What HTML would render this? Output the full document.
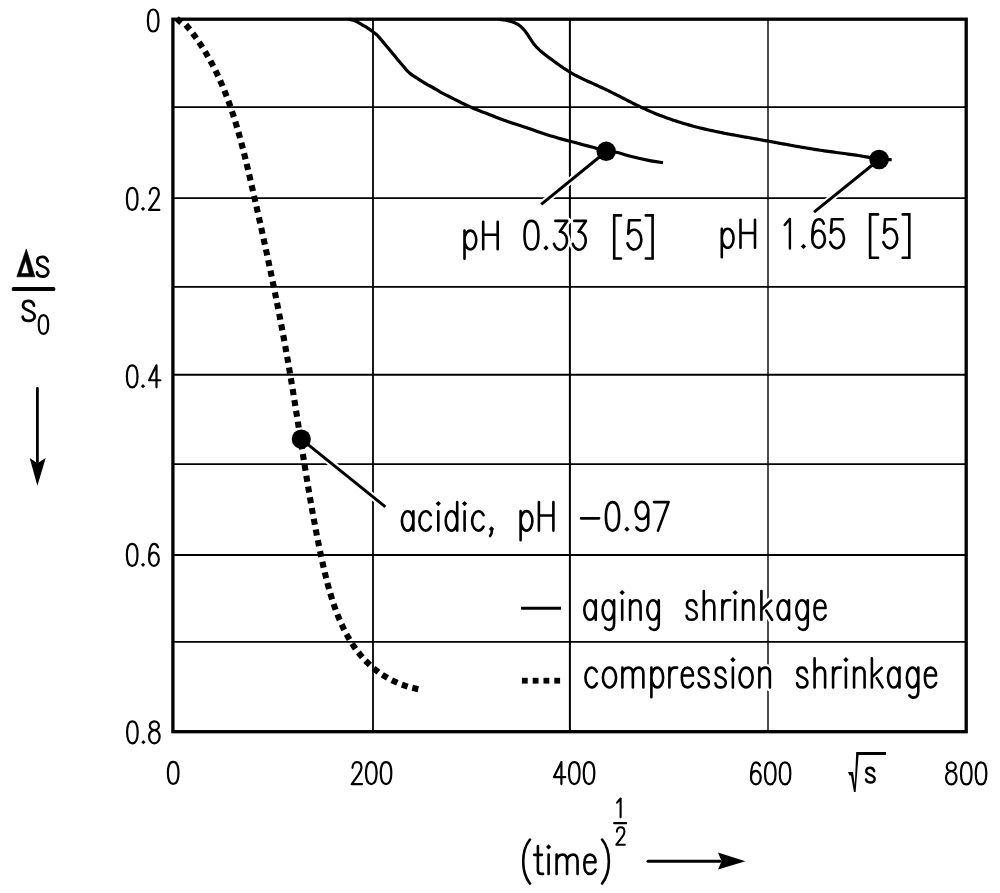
<!DOCTYPE html>
<html><head><meta charset="utf-8"><style>
html,body{margin:0;padding:0;background:#fff;width:1000px;height:893px;overflow:hidden}
svg{display:block}
text{font-family:"Liberation Sans",sans-serif}
</style></head><body>
<svg width="1000" height="893" viewBox="0 0 1000 893">
<rect width="1000" height="893" fill="#fff"/>
<line x1="373.0" y1="19.2" x2="373.0" y2="731.7" stroke="#000" stroke-width="1.8"/>
<line x1="569.9" y1="19.2" x2="569.9" y2="731.7" stroke="#000" stroke-width="2.0"/>
<line x1="768.0" y1="19.2" x2="768.0" y2="731.7" stroke="#000" stroke-width="1.4"/>
<line x1="172.9" y1="107.1" x2="966.2" y2="107.1" stroke="#000" stroke-width="1.9"/>
<line x1="172.9" y1="198.1" x2="966.2" y2="198.1" stroke="#000" stroke-width="1.9"/>
<line x1="172.9" y1="286.9" x2="966.2" y2="286.9" stroke="#000" stroke-width="1.9"/>
<line x1="172.9" y1="374.7" x2="966.2" y2="374.7" stroke="#000" stroke-width="1.9"/>
<line x1="172.9" y1="464.1" x2="966.2" y2="464.1" stroke="#000" stroke-width="1.9"/>
<line x1="172.9" y1="555.0" x2="966.2" y2="555.0" stroke="#000" stroke-width="1.9"/>
<line x1="172.9" y1="641.9" x2="966.2" y2="641.9" stroke="#000" stroke-width="1.9"/>
<line x1="606.2" y1="151.5" x2="541.2" y2="204.4" stroke="#fff" stroke-width="7"/>
<line x1="879.2" y1="159.5" x2="814" y2="212.1" stroke="#fff" stroke-width="7"/>
<line x1="301.3" y1="439.1" x2="385.4" y2="506.8" stroke="#fff" stroke-width="7"/>
<rect x="172.9" y="19.2" width="793.3" height="712.5" fill="none" stroke="#000" stroke-width="3.3"/>
<line x1="606.2" y1="151.5" x2="541.2" y2="204.4" stroke="#000" stroke-width="3"/>
<line x1="879.2" y1="159.5" x2="814" y2="212.1" stroke="#000" stroke-width="3"/>
<line x1="301.3" y1="439.1" x2="385.4" y2="506.8" stroke="#000" stroke-width="3"/>
<path d="M349.00,19.20 C349.75,19.38 352.07,19.82 353.50,20.30 C354.93,20.78 356.08,21.30 357.60,22.10 C359.12,22.90 360.92,24.10 362.60,25.10 C364.28,26.10 366.10,27.08 367.70,28.10 C369.30,29.12 370.95,30.32 372.20,31.20 C373.45,32.08 374.32,32.68 375.20,33.40 C376.08,34.12 376.70,34.67 377.50,35.50 C378.30,36.33 379.08,37.33 380.00,38.40 C380.92,39.47 382.00,40.72 383.00,41.90 C384.00,43.08 385.00,44.30 386.00,45.50 C387.00,46.70 388.00,47.90 389.00,49.10 C390.00,50.30 391.00,51.50 392.00,52.70 C393.00,53.90 394.00,55.10 395.00,56.30 C396.00,57.50 397.00,58.70 398.00,59.90 C399.00,61.10 400.00,62.30 401.00,63.50 C402.00,64.70 403.00,65.90 404.00,67.10 C405.00,68.30 406.08,69.72 407.00,70.70 C407.92,71.68 408.67,72.30 409.50,73.00 C410.33,73.70 411.08,74.25 412.00,74.90 C412.92,75.55 414.00,76.25 415.00,76.90 C416.00,77.55 416.70,77.98 418.00,78.80 C419.30,79.62 421.17,80.80 422.80,81.80 C424.43,82.80 426.13,83.85 427.80,84.80 C429.47,85.75 430.77,86.33 432.80,87.50 C434.83,88.67 437.47,90.38 440.00,91.80 C442.53,93.22 445.33,94.63 448.00,96.00 C450.67,97.37 453.33,98.67 456.00,100.00 C458.67,101.33 461.33,102.70 464.00,104.00 C466.67,105.30 469.33,106.63 472.00,107.80 C474.67,108.97 477.33,109.97 480.00,111.00 C482.67,112.03 485.33,112.97 488.00,114.00 C490.67,115.03 493.33,116.17 496.00,117.20 C498.67,118.23 501.33,119.23 504.00,120.20 C506.67,121.17 509.33,122.13 512.00,123.00 C514.67,123.87 517.33,124.53 520.00,125.40 C522.67,126.27 525.33,127.27 528.00,128.20 C530.67,129.13 533.33,130.07 536.00,131.00 C538.67,131.93 541.33,132.93 544.00,133.80 C546.67,134.67 549.33,135.40 552.00,136.20 C554.67,137.00 557.33,137.83 560.00,138.60 C562.67,139.37 565.33,140.10 568.00,140.80 C570.67,141.50 573.33,142.10 576.00,142.80 C578.67,143.50 581.33,144.30 584.00,145.00 C586.67,145.70 589.50,146.30 592.00,147.00 C594.50,147.70 596.63,148.48 599.00,149.20 C601.37,149.92 603.37,150.78 606.20,151.30 C609.03,151.82 611.62,151.38 616.00,152.30 C620.38,153.22 627.25,155.50 632.50,156.80 C637.75,158.10 642.42,159.11 647.50,160.10 C652.58,161.09 660.42,162.31 663.00,162.75" fill="none" stroke="#000" stroke-width="3.2" stroke-linejoin="round"/>
<path d="M499.83,19.42 L501.90,19.63 L503.97,19.89 L506.02,20.23 L508.05,20.64 L510.04,21.13 L511.97,21.72 L513.85,22.41 L515.66,23.21 L517.39,24.12 L519.02,25.16 L520.55,26.34 L521.98,27.63 L523.33,29.02 L524.61,30.51 L525.82,32.07 L526.98,33.70 L528.10,35.36 L529.20,37.05 L530.30,38.75 L531.40,40.45 L532.54,42.11 L533.72,43.73 L534.97,45.30 L536.29,46.79 L537.67,48.22 L539.10,49.60 L540.58,50.93 L542.11,52.22 L543.66,53.48 L545.24,54.72 L546.83,55.94 L548.43,57.16 L550.04,58.37 L551.65,59.57 L553.27,60.77 L554.89,61.96 L556.52,63.14 L558.15,64.31 L559.79,65.46 L561.44,66.60 L563.10,67.73 L564.77,68.84 L566.46,69.93 L568.15,70.99 L569.85,72.04 L571.57,73.07 L573.30,74.06 L575.04,75.04 L576.80,75.98 L578.57,76.90 L580.35,77.80 L582.15,78.67 L583.96,79.52 L585.77,80.36 L587.59,81.19 L589.42,82.01 L591.24,82.83 L593.08,83.64 L594.91,84.45 L596.74,85.27 L598.56,86.09 L600.38,86.93 L602.20,87.78 L604.01,88.63 L605.82,89.50 L607.62,90.38 L609.42,91.27 L611.22,92.16 L613.01,93.06 L614.80,93.97 L616.59,94.87 L618.38,95.79 L620.16,96.70 L621.95,97.62 L623.73,98.53 L625.52,99.45 L627.30,100.36 L629.09,101.27 L630.88,102.18 L632.67,103.08 L634.46,103.98 L636.26,104.86 L638.06,105.75 L639.86,106.62 L641.67,107.48 L643.49,108.33 L645.30,109.17 L647.13,109.99 L648.96,110.80 L650.79,111.60 L652.63,112.39 L654.48,113.16 L656.33,113.91 L658.19,114.66 L660.06,115.39 L661.92,116.11 L663.80,116.81 L665.68,117.50 L667.56,118.18 L669.45,118.85 L671.34,119.50 L673.24,120.15 L675.14,120.78 L677.04,121.39 L678.95,122.00 L680.86,122.59 L682.78,123.18 L684.70,123.75 L686.62,124.31 L688.55,124.86 L690.48,125.40 L692.41,125.92 L694.34,126.44 L696.28,126.95 L698.22,127.44 L700.17,127.93 L702.11,128.40 L704.06,128.87 L706.01,129.32 L707.96,129.77 L709.91,130.21 L711.87,130.64 L713.83,131.06 L715.79,131.47 L717.75,131.88 L719.71,132.28 L721.67,132.68 L723.64,133.06 L725.61,133.45 L727.57,133.83 L729.54,134.20 L731.51,134.57 L733.48,134.93 L735.45,135.30 L737.43,135.66 L739.40,136.01 L741.37,136.37 L743.34,136.72 L745.32,137.07 L747.29,137.42 L749.27,137.77 L751.24,138.12 L753.21,138.47 L755.19,138.82 L757.16,139.17 L759.13,139.52 L761.11,139.87 L763.08,140.23 L765.05,140.59 L767.02,140.94 L769.00,141.30 L770.97,141.66 L772.94,142.03 L774.91,142.39 L776.88,142.75 L778.85,143.11 L780.82,143.47 L782.79,143.83 L784.76,144.19 L786.73,144.55 L788.70,144.91 L790.67,145.26 L792.64,145.61 L794.62,145.97 L796.59,146.32 L798.56,146.66 L800.53,147.01 L802.51,147.35 L804.48,147.69 L806.45,148.02 L808.43,148.35 L810.41,148.68 L812.38,149.00 L814.36,149.32 L816.34,149.63 L818.32,149.94 L820.30,150.25 L822.28,150.54 L824.26,150.84 L826.24,151.12 L828.23,151.40 L830.21,151.68 L832.20,151.95 L834.18,152.21 L836.17,152.47 L838.16,152.73 L840.15,152.99 L842.14,153.25 L844.12,153.51 L846.11,153.77 L848.10,154.04 L850.08,154.31 L852.07,154.59 L854.05,154.87 L856.03,155.17 L858.01,155.47 L859.99,155.79 L861.97,156.12 L863.94,156.46 L865.91,156.81 L867.88,157.16 L869.85,157.50 L871.82,157.84 L873.80,158.17 L875.77,158.48 L877.75,158.76 L879.72,159.01 L881.71,159.22 L883.69,159.40 L885.68,159.53 L887.68,159.60 L889.68,159.62 L891.69,159.57" fill="none" stroke="#000" stroke-width="3.2" stroke-linejoin="round"/>
<rect x="-3.05" y="-3.05" width="6.1" height="6.1" transform="translate(179.0,20.6) rotate(42.0)" fill="#000"/>
<rect x="-3.05" y="-3.05" width="6.1" height="6.1" transform="translate(187.82243457710902,27.111511979025984) rotate(50.8)" fill="#000"/>
<rect x="-3.05" y="-3.05" width="6.1" height="6.1" transform="translate(194.5388351585336,35.80938107915438) rotate(53.8)" fill="#000"/>
<rect x="-3.05" y="-3.05" width="6.1" height="6.1" transform="translate(200.74073971819635,44.75360942892463) rotate(56.7)" fill="#000"/>
<rect x="-3.05" y="-3.05" width="6.1" height="6.1" transform="translate(206.5351547337511,54.053153808867826) rotate(59.4)" fill="#000"/>
<rect x="-3.05" y="-3.05" width="6.1" height="6.1" transform="translate(211.8690242879794,63.571602288032494) rotate(62.0)" fill="#000"/>
<rect x="-3.05" y="-3.05" width="6.1" height="6.1" transform="translate(216.83925988658578,73.42264782019885) rotate(64.4)" fill="#000"/>
<rect x="-3.05" y="-3.05" width="6.1" height="6.1" transform="translate(221.34964982787892,83.32966693800536) rotate(66.6)" fill="#000"/>
<rect x="-3.05" y="-3.05" width="6.1" height="6.1" transform="translate(225.55567133531937,93.53915163283439) rotate(68.6)" fill="#000"/>
<rect x="-3.05" y="-3.05" width="6.1" height="6.1" transform="translate(229.38122360435185,103.76504582778068) rotate(70.4)" fill="#000"/>
<rect x="-3.05" y="-3.05" width="6.1" height="6.1" transform="translate(232.9181571202096,114.12341624591363) rotate(71.9)" fill="#000"/>
<rect x="-3.05" y="-3.05" width="6.1" height="6.1" transform="translate(236.2006748089176,124.59706901269048) rotate(73.3)" fill="#000"/>
<rect x="-3.05" y="-3.05" width="6.1" height="6.1" transform="translate(239.22344839127015,135.02728339517333) rotate(74.4)" fill="#000"/>
<rect x="-3.05" y="-3.05" width="6.1" height="6.1" transform="translate(242.1019983575078,145.67895373843484) rotate(75.3)" fill="#000"/>
<rect x="-3.05" y="-3.05" width="6.1" height="6.1" transform="translate(244.79278731044843,156.25133376592868) rotate(76.1)" fill="#000"/>
<rect x="-3.05" y="-3.05" width="6.1" height="6.1" transform="translate(247.3681994247933,166.8694350871782) rotate(76.6)" fill="#000"/>
<rect x="-3.05" y="-3.05" width="6.1" height="6.1" transform="translate(249.86108767001338,177.51674245331196) rotate(77.0)" fill="#000"/>
<rect x="-3.05" y="-3.05" width="6.1" height="6.1" transform="translate(252.30430493939969,188.1767406524895) rotate(77.2)" fill="#000"/>
<rect x="-3.05" y="-3.05" width="6.1" height="6.1" transform="translate(254.7244562920572,198.8359515592673) rotate(77.3)" fill="#000"/>
<rect x="-3.05" y="-3.05" width="6.1" height="6.1" transform="translate(257.12485967665697,209.49221696550697) rotate(77.4)" fill="#000"/>
<rect x="-3.05" y="-3.05" width="6.1" height="6.1" transform="translate(259.5353918479443,220.28997103528545) rotate(77.5)" fill="#000"/>
<rect x="-3.05" y="-3.05" width="6.1" height="6.1" transform="translate(261.8896417060297,230.94175767191942) rotate(77.6)" fill="#000"/>
<rect x="-3.05" y="-3.05" width="6.1" height="6.1" transform="translate(264.2177957608699,241.5920410983423) rotate(77.7)" fill="#000"/>
<rect x="-3.05" y="-3.05" width="6.1" height="6.1" transform="translate(266.5486251729759,252.38520400837254) rotate(77.9)" fill="#000"/>
<rect x="-3.05" y="-3.05" width="6.1" height="6.1" transform="translate(268.81784424937,263.0339127362537) rotate(78.1)" fill="#000"/>
<rect x="-3.05" y="-3.05" width="6.1" height="6.1" transform="translate(271.05461968733135,273.68256054425063) rotate(78.2)" fill="#000"/>
<rect x="-3.05" y="-3.05" width="6.1" height="6.1" transform="translate(273.2863585492572,284.4755373905372) rotate(78.4)" fill="#000"/>
<rect x="-3.05" y="-3.05" width="6.1" height="6.1" transform="translate(275.48041420789764,295.2694415635695) rotate(78.6)" fill="#000"/>
<rect x="-3.05" y="-3.05" width="6.1" height="6.1" transform="translate(277.6061431076085,305.92082205923515) rotate(78.8)" fill="#000"/>
<rect x="-3.05" y="-3.05" width="6.1" height="6.1" transform="translate(279.7188286700274,316.7180467783975) rotate(79.0)" fill="#000"/>
<rect x="-3.05" y="-3.05" width="6.1" height="6.1" transform="translate(281.76000237150106,327.3736737403895) rotate(79.3)" fill="#000"/>
<rect x="-3.05" y="-3.05" width="6.1" height="6.1" transform="translate(283.7826623580391,338.17618561543463) rotate(79.5)" fill="#000"/>
<rect x="-3.05" y="-3.05" width="6.1" height="6.1" transform="translate(285.7567325585493,348.9821028996466) rotate(79.8)" fill="#000"/>
<rect x="-3.05" y="-3.05" width="6.1" height="6.1" transform="translate(287.6800199604158,359.79192386697065) rotate(80.0)" fill="#000"/>
<rect x="-3.05" y="-3.05" width="6.1" height="6.1" transform="translate(289.52575212718966,370.46192602689064) rotate(80.3)" fill="#000"/>
<rect x="-3.05" y="-3.05" width="6.1" height="6.1" transform="translate(291.34382224899355,381.2809842754258) rotate(80.6)" fill="#000"/>
<rect x="-3.05" y="-3.05" width="6.1" height="6.1" transform="translate(293.1169004297286,392.10545539617823) rotate(80.8)" fill="#000"/>
<rect x="-3.05" y="-3.05" width="6.1" height="6.1" transform="translate(294.85478763363164,402.93585808376827) rotate(81.0)" fill="#000"/>
<rect x="-3.05" y="-3.05" width="6.1" height="6.1" transform="translate(296.56728482493935,413.77271103281606) rotate(81.1)" fill="#000"/>
<rect x="-3.05" y="-3.05" width="6.1" height="6.1" transform="translate(298.2641929678885,424.6165329379422) rotate(81.1)" fill="#000"/>
<rect x="-3.05" y="-3.05" width="6.1" height="6.1" transform="translate(299.93276013947974,435.3231068548452) rotate(81.1)" fill="#000"/>
<rect x="-3.05" y="-3.05" width="6.1" height="6.1" transform="translate(301.6277751047891,446.18231259285966) rotate(81.1)" fill="#000"/>
<rect x="-3.05" y="-3.05" width="6.1" height="6.1" transform="translate(303.33647323492704,457.05003645488506) rotate(81.0)" fill="#000"/>
<rect x="-3.05" y="-3.05" width="6.1" height="6.1" transform="translate(305.0453625647757,467.78171195820653) rotate(80.9)" fill="#000"/>
<rect x="-3.05" y="-3.05" width="6.1" height="6.1" transform="translate(306.81032164747216,478.66789733341307) rotate(80.7)" fill="#000"/>
<rect x="-3.05" y="-3.05" width="6.1" height="6.1" transform="translate(308.5938053385945,489.4187981518506) rotate(80.5)" fill="#000"/>
<rect x="-3.05" y="-3.05" width="6.1" height="6.1" transform="translate(310.4285206971132,500.17999781309703) rotate(80.2)" fill="#000"/>
<rect x="-3.05" y="-3.05" width="6.1" height="6.1" transform="translate(312.32388185264483,510.9519945393954) rotate(79.9)" fill="#000"/>
<rect x="-3.05" y="-3.05" width="6.1" height="6.1" transform="translate(314.28930293480556,521.7352865529892) rotate(79.5)" fill="#000"/>
<rect x="-3.05" y="-3.05" width="6.1" height="6.1" transform="translate(316.33419807321184,532.5303720761212) rotate(79.1)" fill="#000"/>
<rect x="-3.05" y="-3.05" width="6.1" height="6.1" transform="translate(318.4385124577216,543.1916195635827) rotate(78.6)" fill="#000"/>
<rect x="-3.05" y="-3.05" width="6.1" height="6.1" transform="translate(320.6692069496708,554.0116106020898) rotate(78.1)" fill="#000"/>
<rect x="-3.05" y="-3.05" width="6.1" height="6.1" transform="translate(322.98374889070567,564.688967954082) rotate(77.4)" fill="#000"/>
<rect x="-3.05" y="-3.05" width="6.1" height="6.1" transform="translate(325.4625969708198,575.3243862304223) rotate(76.3)" fill="#000"/>
<rect x="-3.05" y="-3.05" width="6.1" height="6.1" transform="translate(328.203645694724,586.007058888078) rotate(74.8)" fill="#000"/>
<rect x="-3.05" y="-3.05" width="6.1" height="6.1" transform="translate(331.1925405857,596.3933853139997) rotate(73.0)" fill="#000"/>
<rect x="-3.05" y="-3.05" width="6.1" height="6.1" transform="translate(334.6203500118413,606.8497736935484) rotate(70.6)" fill="#000"/>
<rect x="-3.05" y="-3.05" width="6.1" height="6.1" transform="translate(338.52802034439804,617.1640630318509) rotate(67.8)" fill="#000"/>
<rect x="-3.05" y="-3.05" width="6.1" height="6.1" transform="translate(342.9390660432299,627.1340122630123) rotate(64.4)" fill="#000"/>
<rect x="-3.05" y="-3.05" width="6.1" height="6.1" transform="translate(347.98976043536345,636.8212646133279) rotate(60.4)" fill="#000"/>
<rect x="-3.05" y="-3.05" width="6.1" height="6.1" transform="translate(353.77535699310874,646.1397764009304) rotate(55.8)" fill="#000"/>
<rect x="-3.05" y="-3.05" width="6.1" height="6.1" transform="translate(360.315274857983,654.870121232518) rotate(50.4)" fill="#000"/>
<rect x="-3.05" y="-3.05" width="6.1" height="6.1" transform="translate(367.6923338126552,662.9166184461334) rotate(44.4)" fill="#000"/>
<rect x="-3.05" y="-3.05" width="6.1" height="6.1" transform="translate(375.9893536398021,670.1835873797984) rotate(37.9)" fill="#000"/>
<rect x="-3.05" y="-3.05" width="6.1" height="6.1" transform="translate(384.9119256262667,676.3468508588129) rotate(31.3)" fill="#000"/>
<rect x="-3.05" y="-3.05" width="6.1" height="6.1" transform="translate(394.557013098644,681.4876987652642) rotate(24.8)" fill="#000"/>
<rect x="-3.05" y="-3.05" width="6.1" height="6.1" transform="translate(404.7590661630766,685.5489474902208) rotate(18.7)" fill="#000"/>
<rect x="-3.05" y="-3.05" width="6.1" height="6.1" transform="translate(415.28757379435626,688.5364488813764) rotate(13.1)" fill="#000"/>
<circle cx="606.2" cy="151.3" r="9.7" fill="#000"/>
<circle cx="879.1" cy="159.5" r="9.8" fill="#000"/>
<circle cx="301.3" cy="439.1" r="9.6" fill="#000"/>
<line x1="521" y1="608.2" x2="561" y2="608.2" stroke="#000" stroke-width="3"/>
<rect x="521.9" y="677.8" width="5.8" height="5.8" fill="#000"/>
<rect x="532.7" y="677.8" width="5.8" height="5.8" fill="#000"/>
<rect x="543.5" y="677.8" width="5.8" height="5.8" fill="#000"/>
<rect x="554.3" y="677.8" width="5.8" height="5.8" fill="#000"/>
<line x1="37.4" y1="388.5" x2="37.4" y2="462" stroke="#000" stroke-width="2.8" stroke-linecap="round"/>
<path d="M29.7,458 L37.4,463.2 L45.7,458 L37.4,485.7 Z" fill="#000"/>
<line x1="648" y1="861.3" x2="720" y2="861.3" stroke="#000" stroke-width="3" stroke-linecap="round"/>
<path d="M718,852.6 L721.6,861.3 L718,869.4 L745.4,861.3 Z" fill="#000"/>
<path d="M848,772 L853,772 L854.8,785 L856.2,752 L886,752 L886,755 L858.6,755 L855.6,792 L854,792 L851,775.5 L849.5,775.5 Z" fill="#000"/>
<path fill-rule="evenodd" d="M26.3,248.9 L34.9,276.8 L16.8,276.8 Z M25.7,260.3 L21,273.6 L29.1,273.6 Z" fill="#000" stroke="#000" stroke-width="0.6" stroke-linejoin="round"/>
<rect x="11.8" y="287.1" width="43.5" height="4" rx="1.5" fill="#000"/>
<line x1="614.2" y1="823.2" x2="626.1" y2="823.2" stroke="#000" stroke-width="2.2" stroke-linecap="round"/>
<path d="M621.0,215.4 H614.2 V258.5 H621.0 M645.8,215.4 H652.6 V258.5 H645.8 M878.1,214.4 H870.1 V257.8 H878.1 M902.7,214.4 H909.3 V257.8 H902.7" fill="none" stroke="#fff" stroke-width="6" stroke-linecap="round"/>
<path d="M621.0,215.4 H614.2 V258.5 H621.0 M645.8,215.4 H652.6 V258.5 H645.8 M878.1,214.4 H870.1 V257.8 H878.1 M902.7,214.4 H909.3 V257.8 H902.7" fill="none" stroke="#000" stroke-width="2.6" stroke-linecap="round"/>
<path d="M617.1,802.7 L620.6,798.5 L620.6,817.3" fill="none" stroke="#000" stroke-width="2.1" stroke-linecap="round" stroke-linejoin="round"/>
<path d="M784.7,225 L789.9,218.9 L789.9,248.5" fill="none" stroke="#fff" stroke-width="6" stroke-linecap="round" stroke-linejoin="round"/>
<path d="M784.7,225 L789.9,218.9 L789.9,248.5" fill="none" stroke="#000" stroke-width="2.4" stroke-linecap="round" stroke-linejoin="round"/>
<path d="M147.90,20.50 C147.90,13.68 149.91,9.50 153.19,9.50 C156.47,9.50 158.48,13.68 158.48,20.50 C158.48,27.32 156.47,31.50 153.19,31.50 C149.91,31.50 147.90,27.32 147.90,20.50 M126.90,198.90 C126.90,192.08 128.91,187.90 132.19,187.90 C135.47,187.90 137.48,192.08 137.48,198.90 C137.48,205.72 135.47,209.90 132.19,209.90 C128.91,209.90 126.90,205.72 126.90,198.90 M149.85,193.62 C149.85,190.10 151.75,187.90 154.36,187.90 C157.06,187.90 158.82,190.10 158.82,193.40 C158.82,196.26 157.28,198.46 155.73,200.66 L149.10,209.90 L159.35,209.90 M126.90,376.30 C126.90,369.48 128.91,365.30 132.19,365.30 C135.47,365.30 137.48,369.48 137.48,376.30 C137.48,383.12 135.47,387.30 132.19,387.30 C128.91,387.30 126.90,383.12 126.90,376.30 M156.50,365.30 L149.10,380.26 L160.37,380.26 M156.50,365.30 L156.50,387.30 M126.90,554.90 C126.90,548.08 128.91,543.90 132.19,543.90 C135.47,543.90 137.48,548.08 137.48,554.90 C137.48,561.72 135.47,565.90 132.19,565.90 C128.91,565.90 126.90,561.72 126.90,554.90 M149.10,559.21 A4.86,6.69 0 1 1 158.82,559.21 A4.86,6.69 0 1 1 149.10,559.21 M149.10,559.30 C149.10,550.06 149.98,543.90 154.12,543.90 C155.95,543.90 157.28,545.22 157.94,547.29 M127.10,732.30 C127.10,725.48 129.11,721.30 132.39,721.30 C135.67,721.30 137.68,725.48 137.68,732.30 C137.68,739.12 135.67,743.30 132.39,743.30 C129.11,743.30 127.10,739.12 127.10,732.30 M149.85,725.70 A4.51,4.40 0 1 1 158.87,725.70 A4.51,4.40 0 1 1 149.85,725.70 M149.10,736.70 A5.26,6.60 0 1 1 159.62,736.70 A5.26,6.60 0 1 1 149.10,736.70 M167.90,772.90 C167.90,766.08 169.91,761.90 173.19,761.90 C176.47,761.90 178.48,766.08 178.48,772.90 C178.48,779.72 176.47,783.90 173.19,783.90 C169.91,783.90 167.90,779.72 167.90,772.90 M352.50,767.82 C352.50,764.30 354.40,762.10 357.01,762.10 C359.71,762.10 361.47,764.30 361.47,767.60 C361.47,770.46 359.93,772.66 358.38,774.86 L351.75,784.10 L362.00,784.10 M366.00,773.10 C366.00,766.28 368.01,762.10 371.29,762.10 C374.57,762.10 376.58,766.28 376.58,773.10 C376.58,779.92 374.57,784.10 371.29,784.10 C368.01,784.10 366.00,779.92 366.00,773.10 M380.75,773.10 C380.75,766.28 382.76,762.10 386.04,762.10 C389.32,762.10 391.33,766.28 391.33,773.10 C391.33,779.92 389.32,784.10 386.04,784.10 C382.76,784.10 380.75,779.92 380.75,773.10 M561.40,762.10 L554.00,777.06 L565.27,777.06 M561.40,762.10 L561.40,784.10 M569.00,773.10 C569.00,766.28 571.01,762.10 574.29,762.10 C577.57,762.10 579.58,766.28 579.58,773.10 C579.58,779.92 577.57,784.10 574.29,784.10 C571.01,784.10 569.00,779.92 569.00,773.10 M583.75,773.10 C583.75,766.28 585.76,762.10 589.04,762.10 C592.32,762.10 594.33,766.28 594.33,773.10 C594.33,779.92 592.32,784.10 589.04,784.10 C585.76,784.10 583.75,779.92 583.75,773.10 M751.00,777.61 A4.86,6.69 0 1 1 760.72,777.61 A4.86,6.69 0 1 1 751.00,777.61 M751.00,777.70 C751.00,768.46 751.88,762.30 756.02,762.30 C757.85,762.30 759.18,763.62 759.84,765.69 M765.00,773.30 C765.00,766.48 767.01,762.30 770.29,762.30 C773.57,762.30 775.58,766.48 775.58,773.30 C775.58,780.12 773.57,784.30 770.29,784.30 C767.01,784.30 765.00,780.12 765.00,773.30 M779.75,773.30 C779.75,766.48 781.76,762.30 785.04,762.30 C788.32,762.30 790.33,766.48 790.33,773.30 C790.33,780.12 788.32,784.30 785.04,784.30 C781.76,784.30 779.75,780.12 779.75,773.30 M946.75,766.80 A4.51,4.40 0 1 1 955.77,766.80 A4.51,4.40 0 1 1 946.75,766.80 M946.00,777.80 A5.26,6.60 0 1 1 956.52,777.80 A5.26,6.60 0 1 1 946.00,777.80 M961.00,773.40 C961.00,766.58 963.01,762.40 966.29,762.40 C969.57,762.40 971.58,766.58 971.58,773.40 C971.58,780.22 969.57,784.40 966.29,784.40 C963.01,784.40 961.00,780.22 961.00,773.40 M975.75,773.40 C975.75,766.58 977.76,762.40 981.04,762.40 C984.32,762.40 986.33,766.58 986.33,773.40 C986.33,780.22 984.32,784.40 981.04,784.40 C977.76,784.40 975.75,780.22 975.75,773.40" fill="none" stroke="#000" stroke-width="2.2" stroke-linecap="round" stroke-linejoin="round"/>
<path d="M140.90,208.80 L143.00,206.70 L145.10,208.80 L143.00,210.90 Z" fill="#000"/>
<path d="M140.90,386.20 L143.00,384.10 L145.10,386.20 L143.00,388.30 Z" fill="#000"/>
<path d="M140.90,564.80 L143.00,562.70 L145.10,564.80 L143.00,566.90 Z" fill="#000"/>
<path d="M141.30,742.20 L143.40,740.10 L145.50,742.20 L143.40,744.30 Z" fill="#000"/>
<path d="M874.23,771.16 C873.74,768.98 872.29,767.68 870.11,767.68 C867.69,767.68 866.24,768.98 866.24,771.16 C866.24,773.13 867.94,774.00 870.11,774.76 C872.78,775.74 874.71,776.83 874.71,779.01 C874.71,781.19 872.78,782.50 870.24,782.50 C867.94,782.50 866.24,781.41 866.00,779.45" fill="none" stroke="#000" stroke-width="2.4" stroke-linecap="round" stroke-linejoin="round"/>
<path d="M47.68,261.42 C47.05,258.52 45.16,256.78 42.34,256.78 C39.20,256.78 37.31,258.52 37.31,261.42 C37.31,264.03 39.51,265.19 42.34,266.20 C45.79,267.51 48.30,268.96 48.30,271.86 C48.30,274.76 45.79,276.50 42.49,276.50 C39.51,276.50 37.31,275.05 37.00,272.44" fill="none" stroke="#000" stroke-width="2.8" stroke-linecap="round" stroke-linejoin="round"/>
<path d="M34.02,305.61 C33.36,302.67 31.36,300.91 28.36,300.91 C25.03,300.91 23.03,302.67 23.03,305.61 C23.03,308.26 25.36,309.43 28.36,310.46 C32.02,311.79 34.69,313.26 34.69,316.20 C34.69,319.14 32.02,320.90 28.53,320.90 C25.36,320.90 23.03,319.43 22.70,316.78" fill="none" stroke="#000" stroke-width="2.8" stroke-linecap="round" stroke-linejoin="round"/>
<path d="M38.70,324.50 C38.70,318.67 40.50,315.10 43.44,315.10 C46.38,315.10 48.18,318.67 48.18,324.50 C48.18,330.33 46.38,333.90 43.44,333.90 C40.50,333.90 38.70,330.33 38.70,324.50" fill="none" stroke="#000" stroke-width="2.2" stroke-linecap="round" stroke-linejoin="round"/>
<path d="M616.93,831.82 C616.93,829.04 618.52,827.30 620.70,827.30 C622.96,827.30 624.44,829.04 624.44,831.65 C624.44,833.91 623.14,835.65 621.85,837.39 L616.30,844.70 L624.88,844.70" fill="none" stroke="#000" stroke-width="2.0" stroke-linecap="round" stroke-linejoin="round"/>
<path d="M464.50,230.60 L464.50,258.65 M464.50,239.95 A5.88,9.35 0 1 1 476.27,239.95 A5.88,9.35 0 1 1 464.50,239.95 M483.20,221.80 L483.20,249.30 M497.69,221.80 L497.69,249.30 M483.20,234.73 L497.69,234.73 M524.50,235.15 C524.50,226.31 527.14,220.90 531.45,220.90 C535.75,220.90 538.39,226.31 538.39,235.15 C538.39,243.99 535.75,249.40 531.45,249.40 C527.14,249.40 524.50,243.99 524.50,235.15 M555.40,220.90 L567.18,220.90 L559.78,231.73 A6.66,8.98 0 1 1 554.03,243.81 M574.20,220.90 L585.98,220.90 L578.58,231.73 A6.66,8.98 0 1 1 572.83,243.81 M640.04,220.30 L629.10,220.30 L628.30,233.94 A7.17,9.83 0 1 1 627.50,243.33 M721.80,228.76 L721.80,257.32 M721.80,238.28 A5.88,9.52 0 1 1 733.57,238.28 A5.88,9.52 0 1 1 721.80,238.28 M740.50,219.80 L740.50,247.80 M754.99,219.80 L754.99,247.80 M740.50,232.96 L754.99,232.96 M812.30,239.21 A6.29,8.69 0 1 1 824.88,239.21 A6.29,8.69 0 1 1 812.30,239.21 M812.30,239.32 C812.30,227.31 813.44,219.30 818.79,219.30 C821.17,219.30 822.88,221.02 823.74,223.70 M842.70,219.30 L831.80,219.30 L831.00,232.80 A7.15,9.72 0 1 1 830.20,242.09 M895.90,219.30 L885.00,219.30 L884.20,232.80 A7.15,9.72 0 1 1 883.40,242.09 M401.90,520.91 A5.74,9.69 0 1 1 413.38,520.91 A5.74,9.69 0 1 1 401.90,520.91 M413.38,511.22 L413.38,530.60 M430.82,515.21 A6.31,9.69 0 1 0 430.82,526.61 M438.30,511.22 L438.30,530.60 M445.70,520.91 A5.74,9.69 0 1 1 457.18,520.91 A5.74,9.69 0 1 1 445.70,520.91 M457.18,502.10 L457.18,530.60 M464.60,511.22 L464.60,530.60 M483.52,515.21 A6.31,9.69 0 1 0 483.52,526.61 M492.00,528.89 C492.15,531.74 491.57,534.02 490.14,536.01 M520.60,511.15 L520.60,540.32 M520.60,520.88 A5.88,9.72 0 1 1 532.37,520.88 A5.88,9.72 0 1 1 520.60,520.88 M538.90,502.00 L538.90,530.60 M553.39,502.00 L553.39,530.60 M538.90,515.44 L553.39,515.44 M581.00,518.35 L599.08,518.35 M605.90,516.35 C605.90,507.52 608.41,502.10 612.50,502.10 C616.59,502.10 619.10,507.52 619.10,516.35 C619.10,525.19 616.59,530.60 612.50,530.60 C608.41,530.60 605.90,525.19 605.90,516.35 M635.60,510.48 A6.31,8.55 0 1 1 648.23,510.48 A6.31,8.55 0 1 1 635.60,510.48 M648.23,510.48 L648.23,524.05 A6.31,6.55 0 0 1 641.91,530.60 A6.31,6.55 0 0 1 636.46,527.47 M654.00,502.10 L668.55,502.10 L658.02,530.60 M584.30,610.04 A5.74,9.76 0 1 1 595.78,610.04 A5.74,9.76 0 1 1 584.30,610.04 M595.78,600.28 L595.78,619.80 M602.60,610.04 A5.74,9.76 0 1 1 614.08,610.04 A5.74,9.76 0 1 1 602.60,610.04 M614.08,600.28 L614.08,623.53 C614.08,627.84 612.07,629.84 609.20,629.84 C607.48,629.84 606.04,628.98 605.18,627.55 M622.20,600.28 L622.20,619.80 M630.10,600.28 L630.10,619.80 M630.10,606.02 C630.96,602.01 633.54,600.28 636.18,600.28 C639.11,600.28 640.58,602.58 640.58,606.60 L640.58,619.80 M647.30,610.04 A5.74,9.76 0 1 1 658.78,610.04 A5.74,9.76 0 1 1 647.30,610.04 M658.78,600.28 L658.78,623.53 C658.78,627.84 656.77,629.84 653.90,629.84 C652.18,629.84 650.74,628.98 649.88,627.55 M696.36,604.88 C695.78,602.01 694.06,600.28 691.48,600.28 C688.61,600.28 686.89,602.01 686.89,604.88 C686.89,607.46 688.90,608.61 691.48,609.61 C694.64,610.90 696.93,612.34 696.93,615.21 C696.93,618.08 694.64,619.80 691.62,619.80 C688.90,619.80 686.89,618.37 686.60,615.78 M703.80,591.10 L703.80,619.80 M703.80,606.02 C704.66,602.01 707.24,600.28 709.88,600.28 C712.81,600.28 714.28,602.58 714.28,606.60 L714.28,619.80 M722.40,600.28 L722.40,619.80 M722.40,608.32 C722.97,603.15 724.70,600.28 727.28,600.28 L730.15,600.28 M735.10,600.28 L735.10,619.80 M743.00,600.28 L743.00,619.80 M743.00,606.02 C743.86,602.01 746.44,600.28 749.08,600.28 C752.01,600.28 753.48,602.58 753.48,606.60 L753.48,619.80 M761.40,591.10 L761.40,619.80 M771.16,600.57 L762.26,609.18 M766.28,610.62 L772.02,619.80 M777.50,610.04 A5.74,9.76 0 1 1 788.98,610.04 A5.74,9.76 0 1 1 777.50,610.04 M788.98,600.28 L788.98,619.80 M796.30,610.04 A5.74,9.76 0 1 1 807.78,610.04 A5.74,9.76 0 1 1 796.30,610.04 M807.78,600.28 L807.78,623.53 C807.78,627.84 805.77,629.84 802.90,629.84 C801.18,629.84 799.74,628.98 798.88,627.55 M814.40,608.03 L825.59,608.03 C825.59,603.15 823.30,600.28 820.14,600.28 C816.70,600.28 814.40,603.73 814.40,610.04 C814.40,616.36 816.70,619.80 820.14,619.80 C822.72,619.80 824.44,618.08 825.59,615.50 M596.82,671.69 A6.31,9.89 0 1 0 596.82,683.33 M602.90,677.51 A6.60,9.89 0 1 1 616.10,677.51 A6.60,9.89 0 1 1 602.90,677.51 M622.40,667.61 L622.40,687.40 M622.40,673.43 C623.26,669.36 625.84,667.61 628.48,667.61 C631.41,667.61 632.88,669.94 632.88,674.01 L632.88,687.40 M632.88,673.43 C633.74,669.36 636.32,667.61 638.95,667.61 C641.88,667.61 643.35,669.94 643.35,674.01 L643.35,687.40 M651.40,667.61 L651.40,697.29 M651.40,677.51 A5.88,9.89 0 1 1 663.17,677.51 A5.88,9.89 0 1 1 651.40,677.51 M669.40,667.61 L669.40,687.40 M669.40,675.76 C669.97,670.52 671.70,667.61 674.28,667.61 L677.15,667.61 M681.80,675.47 L692.99,675.47 C692.99,670.52 690.70,667.61 687.54,667.61 C684.10,667.61 681.80,671.10 681.80,677.51 C681.80,683.91 684.10,687.40 687.54,687.40 C690.12,687.40 691.84,685.65 692.99,683.03 M708.36,672.27 C707.78,669.36 706.06,667.61 703.48,667.61 C700.61,667.61 698.89,669.36 698.89,672.27 C698.89,674.89 700.90,676.05 703.48,677.07 C706.64,678.38 708.93,679.83 708.93,682.74 C708.93,685.65 706.64,687.40 703.62,687.40 C700.90,687.40 698.89,685.94 698.60,683.33 M725.26,672.27 C724.68,669.36 722.96,667.61 720.38,667.61 C717.51,667.61 715.79,669.36 715.79,672.27 C715.79,674.89 717.80,676.05 720.38,677.07 C723.54,678.38 725.83,679.83 725.83,682.74 C725.83,685.65 723.54,687.40 720.52,687.40 C717.80,687.40 715.79,685.94 715.50,683.33 M732.90,667.61 L732.90,687.40 M739.50,677.51 A6.60,9.89 0 1 1 752.70,677.51 A6.60,9.89 0 1 1 739.50,677.51 M759.40,667.61 L759.40,687.40 M759.40,673.43 C760.26,669.36 762.84,667.61 765.48,667.61 C768.41,667.61 769.88,669.94 769.88,674.01 L769.88,687.40 M806.86,672.27 C806.28,669.36 804.56,667.61 801.98,667.61 C799.11,667.61 797.39,669.36 797.39,672.27 C797.39,674.89 799.40,676.05 801.98,677.07 C805.14,678.38 807.43,679.83 807.43,682.74 C807.43,685.65 805.14,687.40 802.12,687.40 C799.40,687.40 797.39,685.94 797.10,683.33 M814.60,658.30 L814.60,687.40 M814.60,673.43 C815.46,669.36 818.04,667.61 820.68,667.61 C823.61,667.61 825.08,669.94 825.08,674.01 L825.08,687.40 M833.10,667.61 L833.10,687.40 M833.10,675.76 C833.67,670.52 835.40,667.61 837.98,667.61 L840.85,667.61 M845.90,667.61 L845.90,687.40 M854.10,667.61 L854.10,687.40 M854.10,673.43 C854.96,669.36 857.54,667.61 860.18,667.61 C863.11,667.61 864.58,669.94 864.58,674.01 L864.58,687.40 M871.90,658.30 L871.90,687.40 M881.66,667.90 L872.76,676.63 M876.78,678.09 L882.52,687.40 M888.00,677.51 A5.74,9.89 0 1 1 899.48,677.51 A5.74,9.89 0 1 1 888.00,677.51 M899.48,667.61 L899.48,687.40 M906.80,677.51 A5.74,9.89 0 1 1 918.28,677.51 A5.74,9.89 0 1 1 906.80,677.51 M918.28,667.61 L918.28,691.18 C918.28,695.55 916.27,697.58 913.40,697.58 C911.68,697.58 910.24,696.71 909.38,695.26 M924.90,675.47 L936.09,675.47 C936.09,670.52 933.80,667.61 930.64,667.61 C927.20,667.61 924.90,671.10 924.90,677.51 C924.90,683.91 927.20,687.40 930.64,687.40 C933.22,687.40 934.94,685.65 936.09,683.03 M529.96,839.54 A17.22,27.69 0 0 0 529.96,883.50 M537.90,846.07 L537.90,870.49 C537.90,872.76 539.33,873.90 541.34,873.90 L543.07,873.90 M534.17,854.87 L541.92,854.87 M548.60,854.59 L548.60,873.90 M556.60,854.59 L556.60,873.90 M556.60,860.27 C557.46,856.29 560.04,854.59 562.68,854.59 C565.61,854.59 567.08,856.86 567.08,860.84 L567.08,873.90 M567.08,860.27 C567.94,856.29 570.52,854.59 573.15,854.59 C576.08,854.59 577.55,856.86 577.55,860.84 L577.55,873.90 M584.30,862.26 L595.49,862.26 C595.49,857.43 593.20,854.59 590.04,854.59 C586.60,854.59 584.30,858.00 584.30,864.24 C584.30,870.49 586.60,873.90 590.04,873.90 C592.62,873.90 594.34,872.20 595.49,869.64 M602.10,839.54 A17.22,27.69 0 0 1 602.10,883.50" fill="none" stroke="#fff" stroke-width="7.5" stroke-linecap="round" stroke-linejoin="round"/>
<path d="M540.60,247.97 L546.00,242.57 L551.40,247.97 L546.00,253.38 Z" fill="#fff"/>
<path d="M798.10,246.47 L803.50,241.07 L808.90,246.47 L803.50,251.87 Z" fill="#fff"/>
<path d="M432.90,503.53 L438.30,498.13 L443.70,503.53 L438.30,508.93 Z" fill="#fff"/>
<path d="M459.20,503.53 L464.60,498.13 L470.00,503.53 L464.60,508.93 Z" fill="#fff"/>
<path d="M486.03,528.89 L491.43,523.49 L496.83,528.89 L491.43,534.29 Z" fill="#fff"/>
<path d="M621.50,529.18 L626.90,523.78 L632.30,529.18 L626.90,534.58 Z" fill="#fff"/>
<path d="M616.80,592.53 L622.20,587.13 L627.60,592.53 L622.20,597.93 Z" fill="#fff"/>
<path d="M729.70,592.53 L735.10,587.13 L740.50,592.53 L735.10,597.93 Z" fill="#fff"/>
<path d="M727.50,659.75 L732.90,654.36 L738.30,659.75 L732.90,665.15 Z" fill="#fff"/>
<path d="M840.50,659.75 L845.90,654.36 L851.30,659.75 L845.90,665.15 Z" fill="#fff"/>
<path d="M543.20,846.92 L548.60,841.52 L554.00,846.92 L548.60,852.32 Z" fill="#fff"/>
<path d="M464.50,230.60 L464.50,258.65 M464.50,239.95 A5.88,9.35 0 1 1 476.27,239.95 A5.88,9.35 0 1 1 464.50,239.95 M483.20,221.80 L483.20,249.30 M497.69,221.80 L497.69,249.30 M483.20,234.73 L497.69,234.73 M524.50,235.15 C524.50,226.31 527.14,220.90 531.45,220.90 C535.75,220.90 538.39,226.31 538.39,235.15 C538.39,243.99 535.75,249.40 531.45,249.40 C527.14,249.40 524.50,243.99 524.50,235.15 M555.40,220.90 L567.18,220.90 L559.78,231.73 A6.66,8.98 0 1 1 554.03,243.81 M574.20,220.90 L585.98,220.90 L578.58,231.73 A6.66,8.98 0 1 1 572.83,243.81 M640.04,220.30 L629.10,220.30 L628.30,233.94 A7.17,9.83 0 1 1 627.50,243.33 M721.80,228.76 L721.80,257.32 M721.80,238.28 A5.88,9.52 0 1 1 733.57,238.28 A5.88,9.52 0 1 1 721.80,238.28 M740.50,219.80 L740.50,247.80 M754.99,219.80 L754.99,247.80 M740.50,232.96 L754.99,232.96 M812.30,239.21 A6.29,8.69 0 1 1 824.88,239.21 A6.29,8.69 0 1 1 812.30,239.21 M812.30,239.32 C812.30,227.31 813.44,219.30 818.79,219.30 C821.17,219.30 822.88,221.02 823.74,223.70 M842.70,219.30 L831.80,219.30 L831.00,232.80 A7.15,9.72 0 1 1 830.20,242.09 M895.90,219.30 L885.00,219.30 L884.20,232.80 A7.15,9.72 0 1 1 883.40,242.09 M401.90,520.91 A5.74,9.69 0 1 1 413.38,520.91 A5.74,9.69 0 1 1 401.90,520.91 M413.38,511.22 L413.38,530.60 M430.82,515.21 A6.31,9.69 0 1 0 430.82,526.61 M438.30,511.22 L438.30,530.60 M445.70,520.91 A5.74,9.69 0 1 1 457.18,520.91 A5.74,9.69 0 1 1 445.70,520.91 M457.18,502.10 L457.18,530.60 M464.60,511.22 L464.60,530.60 M483.52,515.21 A6.31,9.69 0 1 0 483.52,526.61 M492.00,528.89 C492.15,531.74 491.57,534.02 490.14,536.01 M520.60,511.15 L520.60,540.32 M520.60,520.88 A5.88,9.72 0 1 1 532.37,520.88 A5.88,9.72 0 1 1 520.60,520.88 M538.90,502.00 L538.90,530.60 M553.39,502.00 L553.39,530.60 M538.90,515.44 L553.39,515.44 M581.00,518.35 L599.08,518.35 M605.90,516.35 C605.90,507.52 608.41,502.10 612.50,502.10 C616.59,502.10 619.10,507.52 619.10,516.35 C619.10,525.19 616.59,530.60 612.50,530.60 C608.41,530.60 605.90,525.19 605.90,516.35 M635.60,510.48 A6.31,8.55 0 1 1 648.23,510.48 A6.31,8.55 0 1 1 635.60,510.48 M648.23,510.48 L648.23,524.05 A6.31,6.55 0 0 1 641.91,530.60 A6.31,6.55 0 0 1 636.46,527.47 M654.00,502.10 L668.55,502.10 L658.02,530.60 M584.30,610.04 A5.74,9.76 0 1 1 595.78,610.04 A5.74,9.76 0 1 1 584.30,610.04 M595.78,600.28 L595.78,619.80 M602.60,610.04 A5.74,9.76 0 1 1 614.08,610.04 A5.74,9.76 0 1 1 602.60,610.04 M614.08,600.28 L614.08,623.53 C614.08,627.84 612.07,629.84 609.20,629.84 C607.48,629.84 606.04,628.98 605.18,627.55 M622.20,600.28 L622.20,619.80 M630.10,600.28 L630.10,619.80 M630.10,606.02 C630.96,602.01 633.54,600.28 636.18,600.28 C639.11,600.28 640.58,602.58 640.58,606.60 L640.58,619.80 M647.30,610.04 A5.74,9.76 0 1 1 658.78,610.04 A5.74,9.76 0 1 1 647.30,610.04 M658.78,600.28 L658.78,623.53 C658.78,627.84 656.77,629.84 653.90,629.84 C652.18,629.84 650.74,628.98 649.88,627.55 M696.36,604.88 C695.78,602.01 694.06,600.28 691.48,600.28 C688.61,600.28 686.89,602.01 686.89,604.88 C686.89,607.46 688.90,608.61 691.48,609.61 C694.64,610.90 696.93,612.34 696.93,615.21 C696.93,618.08 694.64,619.80 691.62,619.80 C688.90,619.80 686.89,618.37 686.60,615.78 M703.80,591.10 L703.80,619.80 M703.80,606.02 C704.66,602.01 707.24,600.28 709.88,600.28 C712.81,600.28 714.28,602.58 714.28,606.60 L714.28,619.80 M722.40,600.28 L722.40,619.80 M722.40,608.32 C722.97,603.15 724.70,600.28 727.28,600.28 L730.15,600.28 M735.10,600.28 L735.10,619.80 M743.00,600.28 L743.00,619.80 M743.00,606.02 C743.86,602.01 746.44,600.28 749.08,600.28 C752.01,600.28 753.48,602.58 753.48,606.60 L753.48,619.80 M761.40,591.10 L761.40,619.80 M771.16,600.57 L762.26,609.18 M766.28,610.62 L772.02,619.80 M777.50,610.04 A5.74,9.76 0 1 1 788.98,610.04 A5.74,9.76 0 1 1 777.50,610.04 M788.98,600.28 L788.98,619.80 M796.30,610.04 A5.74,9.76 0 1 1 807.78,610.04 A5.74,9.76 0 1 1 796.30,610.04 M807.78,600.28 L807.78,623.53 C807.78,627.84 805.77,629.84 802.90,629.84 C801.18,629.84 799.74,628.98 798.88,627.55 M814.40,608.03 L825.59,608.03 C825.59,603.15 823.30,600.28 820.14,600.28 C816.70,600.28 814.40,603.73 814.40,610.04 C814.40,616.36 816.70,619.80 820.14,619.80 C822.72,619.80 824.44,618.08 825.59,615.50 M596.82,671.69 A6.31,9.89 0 1 0 596.82,683.33 M602.90,677.51 A6.60,9.89 0 1 1 616.10,677.51 A6.60,9.89 0 1 1 602.90,677.51 M622.40,667.61 L622.40,687.40 M622.40,673.43 C623.26,669.36 625.84,667.61 628.48,667.61 C631.41,667.61 632.88,669.94 632.88,674.01 L632.88,687.40 M632.88,673.43 C633.74,669.36 636.32,667.61 638.95,667.61 C641.88,667.61 643.35,669.94 643.35,674.01 L643.35,687.40 M651.40,667.61 L651.40,697.29 M651.40,677.51 A5.88,9.89 0 1 1 663.17,677.51 A5.88,9.89 0 1 1 651.40,677.51 M669.40,667.61 L669.40,687.40 M669.40,675.76 C669.97,670.52 671.70,667.61 674.28,667.61 L677.15,667.61 M681.80,675.47 L692.99,675.47 C692.99,670.52 690.70,667.61 687.54,667.61 C684.10,667.61 681.80,671.10 681.80,677.51 C681.80,683.91 684.10,687.40 687.54,687.40 C690.12,687.40 691.84,685.65 692.99,683.03 M708.36,672.27 C707.78,669.36 706.06,667.61 703.48,667.61 C700.61,667.61 698.89,669.36 698.89,672.27 C698.89,674.89 700.90,676.05 703.48,677.07 C706.64,678.38 708.93,679.83 708.93,682.74 C708.93,685.65 706.64,687.40 703.62,687.40 C700.90,687.40 698.89,685.94 698.60,683.33 M725.26,672.27 C724.68,669.36 722.96,667.61 720.38,667.61 C717.51,667.61 715.79,669.36 715.79,672.27 C715.79,674.89 717.80,676.05 720.38,677.07 C723.54,678.38 725.83,679.83 725.83,682.74 C725.83,685.65 723.54,687.40 720.52,687.40 C717.80,687.40 715.79,685.94 715.50,683.33 M732.90,667.61 L732.90,687.40 M739.50,677.51 A6.60,9.89 0 1 1 752.70,677.51 A6.60,9.89 0 1 1 739.50,677.51 M759.40,667.61 L759.40,687.40 M759.40,673.43 C760.26,669.36 762.84,667.61 765.48,667.61 C768.41,667.61 769.88,669.94 769.88,674.01 L769.88,687.40 M806.86,672.27 C806.28,669.36 804.56,667.61 801.98,667.61 C799.11,667.61 797.39,669.36 797.39,672.27 C797.39,674.89 799.40,676.05 801.98,677.07 C805.14,678.38 807.43,679.83 807.43,682.74 C807.43,685.65 805.14,687.40 802.12,687.40 C799.40,687.40 797.39,685.94 797.10,683.33 M814.60,658.30 L814.60,687.40 M814.60,673.43 C815.46,669.36 818.04,667.61 820.68,667.61 C823.61,667.61 825.08,669.94 825.08,674.01 L825.08,687.40 M833.10,667.61 L833.10,687.40 M833.10,675.76 C833.67,670.52 835.40,667.61 837.98,667.61 L840.85,667.61 M845.90,667.61 L845.90,687.40 M854.10,667.61 L854.10,687.40 M854.10,673.43 C854.96,669.36 857.54,667.61 860.18,667.61 C863.11,667.61 864.58,669.94 864.58,674.01 L864.58,687.40 M871.90,658.30 L871.90,687.40 M881.66,667.90 L872.76,676.63 M876.78,678.09 L882.52,687.40 M888.00,677.51 A5.74,9.89 0 1 1 899.48,677.51 A5.74,9.89 0 1 1 888.00,677.51 M899.48,667.61 L899.48,687.40 M906.80,677.51 A5.74,9.89 0 1 1 918.28,677.51 A5.74,9.89 0 1 1 906.80,677.51 M918.28,667.61 L918.28,691.18 C918.28,695.55 916.27,697.58 913.40,697.58 C911.68,697.58 910.24,696.71 909.38,695.26 M924.90,675.47 L936.09,675.47 C936.09,670.52 933.80,667.61 930.64,667.61 C927.20,667.61 924.90,671.10 924.90,677.51 C924.90,683.91 927.20,687.40 930.64,687.40 C933.22,687.40 934.94,685.65 936.09,683.03 M529.96,839.54 A17.22,27.69 0 0 0 529.96,883.50 M537.90,846.07 L537.90,870.49 C537.90,872.76 539.33,873.90 541.34,873.90 L543.07,873.90 M534.17,854.87 L541.92,854.87 M548.60,854.59 L548.60,873.90 M556.60,854.59 L556.60,873.90 M556.60,860.27 C557.46,856.29 560.04,854.59 562.68,854.59 C565.61,854.59 567.08,856.86 567.08,860.84 L567.08,873.90 M567.08,860.27 C567.94,856.29 570.52,854.59 573.15,854.59 C576.08,854.59 577.55,856.86 577.55,860.84 L577.55,873.90 M584.30,862.26 L595.49,862.26 C595.49,857.43 593.20,854.59 590.04,854.59 C586.60,854.59 584.30,858.00 584.30,864.24 C584.30,870.49 586.60,873.90 590.04,873.90 C592.62,873.90 594.34,872.20 595.49,869.64 M602.10,839.54 A17.22,27.69 0 0 1 602.10,883.50" fill="none" stroke="#000" stroke-width="2.6" stroke-linecap="round" stroke-linejoin="round"/>
<path d="M543.35,247.97 L546.00,245.32 L548.65,247.97 L546.00,250.62 Z" fill="#000"/>
<path d="M800.85,246.47 L803.50,243.82 L806.15,246.47 L803.50,249.12 Z" fill="#000"/>
<path d="M435.65,503.53 L438.30,500.88 L440.95,503.53 L438.30,506.18 Z" fill="#000"/>
<path d="M461.95,503.53 L464.60,500.88 L467.25,503.53 L464.60,506.18 Z" fill="#000"/>
<path d="M488.78,528.89 L491.43,526.24 L494.08,528.89 L491.43,531.54 Z" fill="#000"/>
<path d="M624.25,529.18 L626.90,526.53 L629.55,529.18 L626.90,531.83 Z" fill="#000"/>
<path d="M619.55,592.53 L622.20,589.88 L624.85,592.53 L622.20,595.18 Z" fill="#000"/>
<path d="M732.45,592.53 L735.10,589.88 L737.75,592.53 L735.10,595.18 Z" fill="#000"/>
<path d="M730.25,659.75 L732.90,657.11 L735.55,659.75 L732.90,662.40 Z" fill="#000"/>
<path d="M843.25,659.75 L845.90,657.11 L848.55,659.75 L845.90,662.40 Z" fill="#000"/>
<path d="M545.95,846.92 L548.60,844.27 L551.25,846.92 L548.60,849.57 Z" fill="#000"/>
</svg>
</body></html>
